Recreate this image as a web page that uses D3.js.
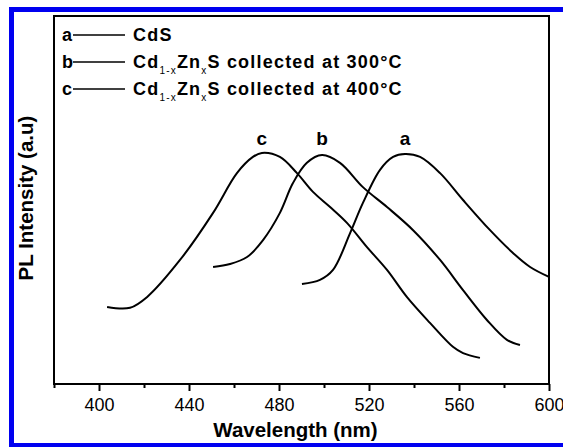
<!DOCTYPE html>
<html>
<head>
<meta charset="utf-8">
<script src="https://cdn.jsdelivr.net/npm/d3@7"></script>
<style>
	body { margin: 0; background: #fff; }
	svg { display: block; font-family: 'Liberation Sans', Arial, sans-serif; }
</style>
</head>
<body>
<div class="content"></div>
<script>
const w = 563;
const h = 447;
const m = {top: 16, right: 14, bottom: 63, left: 54};

// PL spectra (wavelength nm, intensity a.u.)
const seriesNames = ['a', 'b', 'c'];
const wlA = [490.2, 498.2, 504, 511.6, 517.3, 524.9, 530.7, 536, 542.7, 551.6, 561.8, 573.8, 584, 591.6, 600];
const plA = [27.2, 28.3, 31.0, 41.0, 49.2, 58.2, 61.7, 62.5, 61.7, 57.3, 50.0, 41.8, 35.6, 31.8, 29.1];
const wlB = [450.7, 458.2, 465.8, 472.9, 480.4, 486.2, 492.4, 499.1, 507.1, 517.3, 528, 539.6, 551.6, 561.8, 572.4, 581.3, 587.1];
const plB = [31.8, 32.6, 34.5, 39.1, 46.5, 54.6, 60.1, 62.2, 60.1, 53.5, 48.1, 41.8, 33.7, 25.5, 17.4, 12.0, 10.6];
const wlC = [403.6, 413.8, 421.3, 436, 450.7, 461.3, 468.4, 472.4, 480.4, 488, 495.1, 502.7, 510.2, 519.1, 528, 536.9, 547.1, 557.3, 561.8, 569.3];
const plC = [20.9, 20.7, 23.6, 33.7, 46.5, 57.3, 61.7, 62.8, 61.7, 57.3, 52.2, 48.1, 43.8, 37.2, 31.0, 23.6, 16.6, 10.1, 8.4, 7.1];
const peakLabelAt = [536, 499.1, 472.4];

const xTicks = [400, 440, 480, 520, 560, 600];
const xMinorTicks = [380, 420, 460, 500, 540, 580];
const xDomain = [380, 600];
const yDomain = [0, 100];

const legendLetters = ['a', 'b', 'c'];
const legendTemps = [null, '300', '400'];

const series = [
	{name: seriesNames[0], wl: wlA, pl: plA},
	{name: seriesNames[1], wl: wlB, pl: plB},
	{name: seriesNames[2], wl: wlC, pl: plC}
];

const svg = d3.select('.content').append('svg')
	.attr('width', w)
	.attr('height', h);

svg.append('rect')
	.attr('width', w)
	.attr('height', h)
	.attr('fill', '#fff');

// blue frame round the figure
svg.append('path')
	.attr('d', `M${w + 2},9.5 H11.5 V445`)
	.attr('fill', 'none')
	.attr('stroke', '#0000f0')
	.attr('stroke-width', 5);
svg.append('line')
	.attr('x1', 9).attr('x2', w)
	.attr('y1', 445).attr('y2', 445)
	.attr('stroke', '#0000f0')
	.attr('stroke-width', 4);

const x = d3.scaleLinear()
	.domain(xDomain)
	.range([m.left, w - m.right]);

const y = d3.scaleLinear()
	.domain(yDomain)
	.range([h - m.bottom, m.top]);

const line = d3.line()
	.x(d => x(d[0]))
	.y(d => y(d[1]))
	.curve(d3.curveCatmullRom.alpha(0.5));

svg.selectAll('path.spec')
	.data(series)
	.enter()
	.append('path')
	.attr('class', 'spec')
	.attr('d', d => line(d.wl.map((v, i) => [v, d.pl[i]])))
	.attr('fill', 'none')
	.attr('stroke', '#000')
	.attr('stroke-width', 2);

svg.selectAll('text.peak')
	.data(series)
	.enter()
	.append('text')
	.attr('class', 'peak')
	.attr('x', (d, i) => x(peakLabelAt[i]))
	.attr('y', 145)
	.attr('text-anchor', 'middle')
	.attr('font-size', 19)
	.attr('font-weight', 'bold')
	.text(d => d.name);

// axes
svg.append('g')
	.attr('transform', `translate(0,${h - m.bottom})`)
	.call(d3.axisBottom(x).tickValues(xMinorTicks).tickSize(4).tickFormat(''))
	.call(g => g.select('.domain').remove())
	.call(g => g.selectAll('line').attr('stroke-width', 2));

svg.append('g')
	.attr('transform', `translate(0,${h - m.bottom})`)
	.call(d3.axisBottom(x).tickValues(xTicks).tickSize(7).tickPadding(7))
	.call(g => g.select('.domain').remove())
	.call(g => g.selectAll('line').attr('stroke-width', 2))
	.call(g => g.selectAll('text')
		.attr('font-size', 18)
		.attr('font-family', "'Liberation Sans', Arial, sans-serif"));

svg.append('rect')
	.attr('x', m.left)
	.attr('y', m.top)
	.attr('width', w - m.left - m.right)
	.attr('height', h - m.top - m.bottom)
	.attr('fill', 'none')
	.attr('stroke', '#000')
	.attr('stroke-width', 2);

svg.append('text')
	.attr('x', (m.left + w - m.right) / 2 - 6)
	.attr('y', 437)
	.attr('text-anchor', 'middle')
	.attr('font-size', 20.5)
	.attr('font-weight', 'bold')
	.text('Wavelength (nm)');

svg.append('text')
	.attr('transform', `translate(33,${(m.top + h - m.bottom) / 2 - 2}) rotate(-90)`)
	.attr('text-anchor', 'middle')
	.attr('font-size', 20.5)
	.attr('font-weight', 'bold')
	.text('PL Intensity (a.u)');

// legend
const legend = svg.selectAll('g.leg')
	.data(legendLetters)
	.enter()
	.append('g')
	.attr('class', 'leg')
	.attr('transform', (d, i) => `translate(0,${41 + i * 27})`)
	.attr('font-size', 18)
	.attr('font-weight', 'bold');

legend.append('text')
	.attr('x', 62)
	.text(d => d);

legend.append('line')
	.attr('x1', 73).attr('x2', 125)
	.attr('y1', -6).attr('y2', -6)
	.attr('stroke', '#000')
	.attr('stroke-width', 1.5);

legend.append('text')
	.attr('x', 133)
	.attr('letter-spacing', 1.2)
	.each(function(d, i) {
		const t = d3.select(this);
		if (!legendTemps[i]) {
			t.text('CdS');
			return;
		}
		t.append('tspan').text('Cd');
		t.append('tspan').attr('dy', 6).attr('font-size', 10).attr('font-weight', 'normal').text('1-x');
		t.append('tspan').attr('dy', -6).text('Zn');
		t.append('tspan').attr('dy', 6).attr('font-size', 10).attr('font-weight', 'normal').text('x');
		t.append('tspan').attr('dy', -6).text(`S collected at ${legendTemps[i]}°C`);
	});
</script>
</body>
</html>
